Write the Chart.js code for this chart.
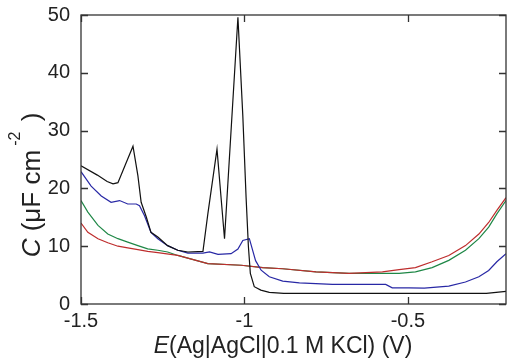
<!DOCTYPE html>
<html>
<head>
<meta charset="utf-8">
<script src="https://cdn.jsdelivr.net/npm/chart.js@4.4.1/dist/chart.umd.min.js"></script>
<style>
  body { margin: 0; background: #fff; }
  #wrap { width: 522px; height: 364px; }
</style>
</head>
<body>
<div id="wrap"><canvas id="myChart" width="522" height="364"></canvas></div>
<script>
// values, E in V and C in uF cm^-2
const xTicks = [-1.5, -1, -0.5];
const yTicks = [0, 10, 20, 30, 40, 50];

const E_black = [-1.5, -1.45, -1.42, -1.402, -1.387, -1.365, -1.341, -1.326, -1.316, -1.3, -1.286, -1.265, -1.235, -1.204, -1.173, -1.127, -1.112, -1.084, -1.061, -1.02, -1.005, -0.995, -0.988, -0.982, -0.97, -0.95, -0.924, -0.88, -0.5, -0.26, -0.2];
const C_black = [23.9, 22.3, 21.2, 20.8, 21.0, 24.0, 27.3, 22.2, 17.6, 15.0, 12.4, 11.6, 10.1, 9.3, 9.0, 9.1, 15.6, 26.8, 11.3, 49.6, 32.5, 18.4, 10.0, 5.3, 3.0, 2.4, 2.0, 1.85, 1.85, 1.85, 2.2];

const E_blue = [-1.5, -1.469, -1.438, -1.408, -1.382, -1.357, -1.331, -1.321, -1.306, -1.286, -1.265, -1.235, -1.204, -1.173, -1.127, -1.107, -1.081, -1.041, -1.02, -1.005, -0.985, -0.966, -0.949, -0.924, -0.883, -0.832, -0.731, -0.568, -0.548, -0.497, -0.45, -0.375, -0.324, -0.283, -0.253, -0.228, -0.2];
const C_blue = [22.9, 20.4, 18.7, 17.6, 17.9, 17.3, 17.3, 17.0, 15.3, 12.4, 11.3, 10.1, 9.3, 8.8, 8.8, 9.0, 8.6, 8.7, 9.5, 11.0, 11.3, 7.5, 5.85, 4.7, 3.95, 3.66, 3.38, 3.38, 2.8, 2.8, 2.75, 3.1, 3.8, 4.7, 5.8, 7.3, 8.7];

const E_green = [-1.5, -1.479, -1.448, -1.418, -1.387, -1.357, -1.326, -1.296, -1.265, -1.235, -1.204, -1.112, -1.01, -0.944, -0.883, -0.781, -0.68, -0.578, -0.527, -0.477, -0.426, -0.375, -0.324, -0.283, -0.253, -0.228, -0.2];
const C_green = [17.9, 15.9, 13.6, 12.1, 11.3, 10.7, 10.1, 9.55, 9.3, 9.0, 8.4, 7.0, 6.7, 6.3, 6.1, 5.55, 5.3, 5.3, 5.3, 5.55, 6.3, 7.55, 9.3, 11.3, 13.3, 15.6, 17.9];

const E_red = [-1.5, -1.479, -1.448, -1.418, -1.387, -1.357, -1.326, -1.296, -1.265, -1.204, -1.112, -1.01, -0.944, -0.883, -0.781, -0.68, -0.578, -0.527, -0.477, -0.426, -0.375, -0.324, -0.283, -0.253, -0.228, -0.2];
const C_red = [14.0, 12.4, 11.3, 10.6, 10.0, 9.7, 9.4, 9.1, 8.9, 8.4, 7.0, 6.7, 6.3, 6.1, 5.55, 5.3, 5.55, 5.95, 6.3, 7.3, 8.4, 10.1, 12.1, 14.1, 16.2, 18.4];

function pts(xs, ys) {
  return xs.map((x, i) => ({ x: x, y: ys[i] }));
}

function line(data, color) {
  return {
    data: data,
    borderColor: color,
    borderWidth: 1.2,
    pointRadius: 0,
    tension: 0,
    fill: false
  };
}

const FONT = '"Liberation Sans", Arial, sans-serif';

// frame, inward ticks and the two axis titles
const decor = {
  id: 'decor',
  afterDraw(chart) {
    const c = chart.ctx;
    const a = chart.chartArea;
    const sx = chart.scales.x;
    const sy = chart.scales.y;
    const tl = 7;
    c.save();
    c.strokeStyle = '#333';
    c.lineWidth = 1.3;
    c.strokeRect(a.left, a.top, a.right - a.left, a.bottom - a.top);
    c.beginPath();
    sx.ticks.forEach(t => {
      const px = Math.round(sx.getPixelForValue(t.value)) + 0.5;
      c.moveTo(px, a.bottom); c.lineTo(px, a.bottom - tl);
      c.moveTo(px, a.top); c.lineTo(px, a.top + tl);
    });
    sy.ticks.forEach(t => {
      const py = Math.round(sy.getPixelForValue(t.value)) + 0.5;
      c.moveTo(a.left, py); c.lineTo(a.left + tl, py);
      c.moveTo(a.right, py); c.lineTo(a.right - tl, py);
    });
    c.stroke();

    // x title
    c.fillStyle = '#222';
    c.textBaseline = 'alphabetic';
    c.textAlign = 'left';
    c.font = 'italic 23px ' + FONT;
    const wE = c.measureText('E').width;
    c.font = '23px ' + FONT;
    const rest = '(Ag|AgCl|0.1 M KCl) (V)';
    const wR = c.measureText(rest).width;
    let x0 = 283 - (wE + wR) / 2;
    c.font = 'italic 23px ' + FONT;
    c.fillText('E', x0, 353);
    c.font = '23px ' + FONT;
    c.fillText(rest, x0 + wE, 353);

    // y title, rotated
    c.translate(40, 185);
    c.rotate(-Math.PI / 2);
    c.font = 'italic 26px ' + FONT;
    const wC = c.measureText('C').width;
    c.font = '26px ' + FONT;
    const p1 = ' (\u03bcF cm ';
    const w1 = c.measureText(p1).width;
    c.font = '16px ' + FONT;
    const sup = '-2';
    const wS = c.measureText(sup).width;
    c.font = '26px ' + FONT;
    const p2 = ' )';
    const w2 = c.measureText(p2).width;
    let s = -(wC + w1 + wS + w2) / 2;
    c.font = 'italic 26px ' + FONT;
    c.fillText('C', s, 0); s += wC;
    c.font = '26px ' + FONT;
    c.fillText(p1, s, 0); s += w1;
    c.font = '16px ' + FONT;
    c.fillText(sup, s - 3, -20); s += wS;
    c.font = '26px ' + FONT;
    c.fillText(p2, s, 0);
    c.restore();
  }
};

const ctx = document.getElementById('myChart');

new Chart(ctx, {
  type: 'line',
  data: {
    datasets: [
      line(pts(E_black, C_black), '#111'),
      line(pts(E_blue, C_blue), 'rgb(40,40,165)'),
      line(pts(E_red, C_red), 'rgb(190,45,45)'),
      line(pts(E_green, C_green), 'rgb(30,135,70)')
    ]
  },
  options: {
    responsive: false,
    animation: false,
    devicePixelRatio: 1,
    layout: { padding: { left: 0, top: 13, right: 16, bottom: 0 } },
    plugins: {
      legend: { display: false },
      tooltip: { enabled: false }
    },
    scales: {
      x: {
        type: 'linear',
        min: -1.5,
        max: -0.2,
        grid: { display: false },
        border: { display: false },
        afterBuildTicks: s => { s.ticks = xTicks.map(v => ({ value: v })); },
        afterFit: s => { s.height = 60; },
        ticks: {
          padding: -3,
          maxRotation: 0,
          color: '#222',
          font: { family: FONT, size: 20 },
          callback: v => String(Math.round(v * 10) / 10)
        }
      },
      y: {
        min: 0,
        max: 50,
        grid: { display: false },
        border: { display: false },
        afterBuildTicks: s => { s.ticks = yTicks.map(v => ({ value: v })); },
        afterFit: s => { s.width = 81; },
        ticks: {
          padding: 3,
          color: '#222',
          font: { family: FONT, size: 20 },
          callback: v => String(v)
        }
      }
    }
  },
  plugins: [decor]
});
</script>
</body>
</html>
